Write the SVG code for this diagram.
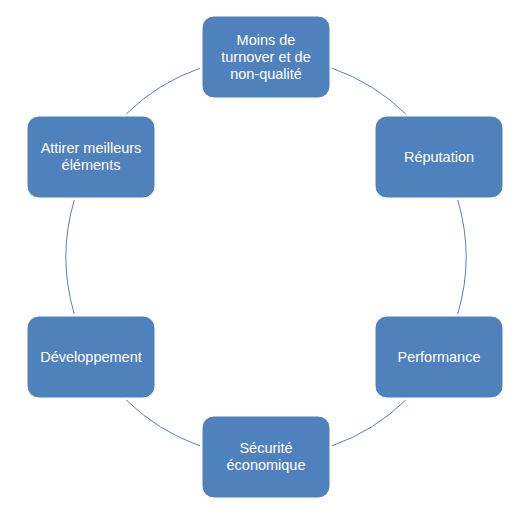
<svg xmlns="http://www.w3.org/2000/svg" width="525" height="517" viewBox="0 0 525 517">
<style>
.node rect{fill:#4F81BD;stroke:#ffffff;stroke-width:1}
.node text{fill:#ffffff;font-family:"Liberation Sans",Arial,sans-serif;font-size:14.5px;text-anchor:middle}
.arc{fill:none;stroke:#5B7DB8;stroke-width:1}
</style>
<rect width="525" height="517" fill="#ffffff"/>
<g id="connectors">
<path class="arc" d="M332,68.2 A200,200 0 0 1 405.8,114"/>
<path class="arc" d="M457.7,200 A200,200 0 0 1 457.7,314"/>
<path class="arc" d="M405.8,400 A200,200 0 0 1 332,445.8"/>
<path class="arc" d="M200,445.8 A200,200 0 0 1 126.2,400"/>
<path class="arc" d="M74.3,314 A200,200 0 0 1 74.3,200"/>
<path class="arc" d="M126.2,114 A200,200 0 0 1 200,68.2"/>
</g>
<g id="node-moins" class="node">
<rect x="202" y="16" width="128" height="82" rx="12"/>
<text x="266" y="44.5">Moins de</text>
<text x="266" y="61.5">turnover et de</text>
<text x="266" y="78.5">non-qualité</text>
</g>
<g id="node-reputation" class="node">
<rect x="375" y="116" width="128" height="82" rx="12"/>
<text x="439" y="161.5">Réputation</text>
</g>
<g id="node-performance" class="node">
<rect x="375" y="316" width="128" height="82" rx="12"/>
<text x="439" y="361.5">Performance</text>
</g>
<g id="node-securite" class="node">
<rect x="202" y="416" width="128" height="82" rx="12"/>
<text x="266" y="453">Sécurité</text>
<text x="266" y="470">économique</text>
</g>
<g id="node-developpement" class="node">
<rect x="27" y="316" width="128" height="82" rx="12"/>
<text x="91" y="361.5">Développement</text>
</g>
<g id="node-attirer" class="node">
<rect x="27" y="116" width="128" height="82" rx="12"/>
<text x="91" y="153">Attirer meilleurs</text>
<text x="91" y="170">éléments</text>
</g>
</svg>
